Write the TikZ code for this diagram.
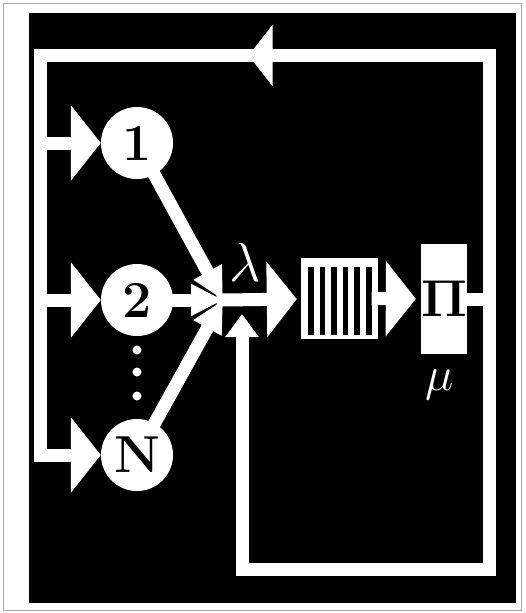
\RequirePackage{fix-cm}
\documentclass[tikz,border=0pt]{standalone}
\usepackage{amsmath,amssymb}
\usetikzlibrary{arrows.meta, decorations.markings}

\begin{document}
\begin{tikzpicture}[x=1pt, y=-1pt,
		flow/.style={draw=white, line width=13pt, line cap=rect},
		bigtip/.style={-{Triangle[length=30pt, width=74pt]}},
		midtip/.style={-{Triangle[length=32pt, width=30pt]}},
		uptip/.style={-{Triangle[length=23pt, width=32pt]}},
		source/.style={circle, fill=white, minimum size=72pt, inner sep=0pt,
			font=\fontsize{52}{52}\selectfont\bfseries},
		whitelabel/.style={text=white, inner sep=0pt}]
			\useasboundingbox (0, 0) rectangle (525, 613);
			% Frame and black field
			\draw[gray!70, line width=1.2pt] (3.5, 3.5) rectangle (521.5, 610.5);
			\fill[black] (29, 12.5) rectangle (516, 603);
			% Sources
			\node[source] (n1) at (137, 143) {1};
			\node[source] (n2) at (137, 300) {2};
			\node[source] (nN) at (137, 455) {N};
			\foreach \y in {350, 372, 396}
				\fill[white] (137, \y) circle (4.5);
			% Queue and server
			\coordinate (mix) at (223, 300);
			\node[fill=white, minimum width=77pt, minimum height=81pt, inner sep=0pt] (q) at (339.5, 298.5) {};
			\foreach \i in {0, ..., 5}
				\fill[black] (308 + \i*11.6, 267) rectangle ++(5.5, 68);
			\node[fill=white, minimum width=46pt, minimum height=110pt, inner sep=0pt,
				font=\fontsize{52}{52}\selectfont] (srv) at (444, 299) {$\mathbf{\Pi}$};
			\node[whitelabel, font=\fontsize{55}{55}\selectfont] (lam) at (245, 262) {$\lambda$};
			\node[whitelabel, font=\fontsize{48}{48}\selectfont] (mu) at (440, 385) {$\mu$};
			% Feedback loop
			\coordinate (tl) at (40, 55.5);
			\coordinate (tr) at (489, 55.5);
			\coordinate (br) at (489, 569);
			\coordinate (bl) at (242, 569);
			\coordinate (lb) at (40, 455);
			\coordinate (ret) at (242, 314);
			\draw[flow] (srv) -- (srv -| tr);
			\draw[flow, line join=miter, postaction={decorate}, decoration={markings,
				mark=at position 754pt with {\arrow{Triangle[length=24pt, width=60pt]}}}]
				(br) -- (tr) -- (tl) -- (lb);
			\draw[flow, bigtip] (lb) -- (nN);
			\draw[flow, bigtip] (n1 -| tl) -- (n1);
			\draw[flow, bigtip] (n2 -| tl) -- (n2);
			\draw[flow, uptip] (br) -- (bl) -- (ret);
			% Merge into queue
			\draw[flow, midtip] (n1) -- (mix);
			\draw[flow, midtip] (n2) -- (mix);
			\draw[flow, midtip] (nN) -- (mix);
			\draw[flow, bigtip, shorten >=4pt] (mix) -- (q);
			\draw[flow, bigtip, shorten >=5pt] (q) -- (srv);
		\end{tikzpicture}
\end{document}
